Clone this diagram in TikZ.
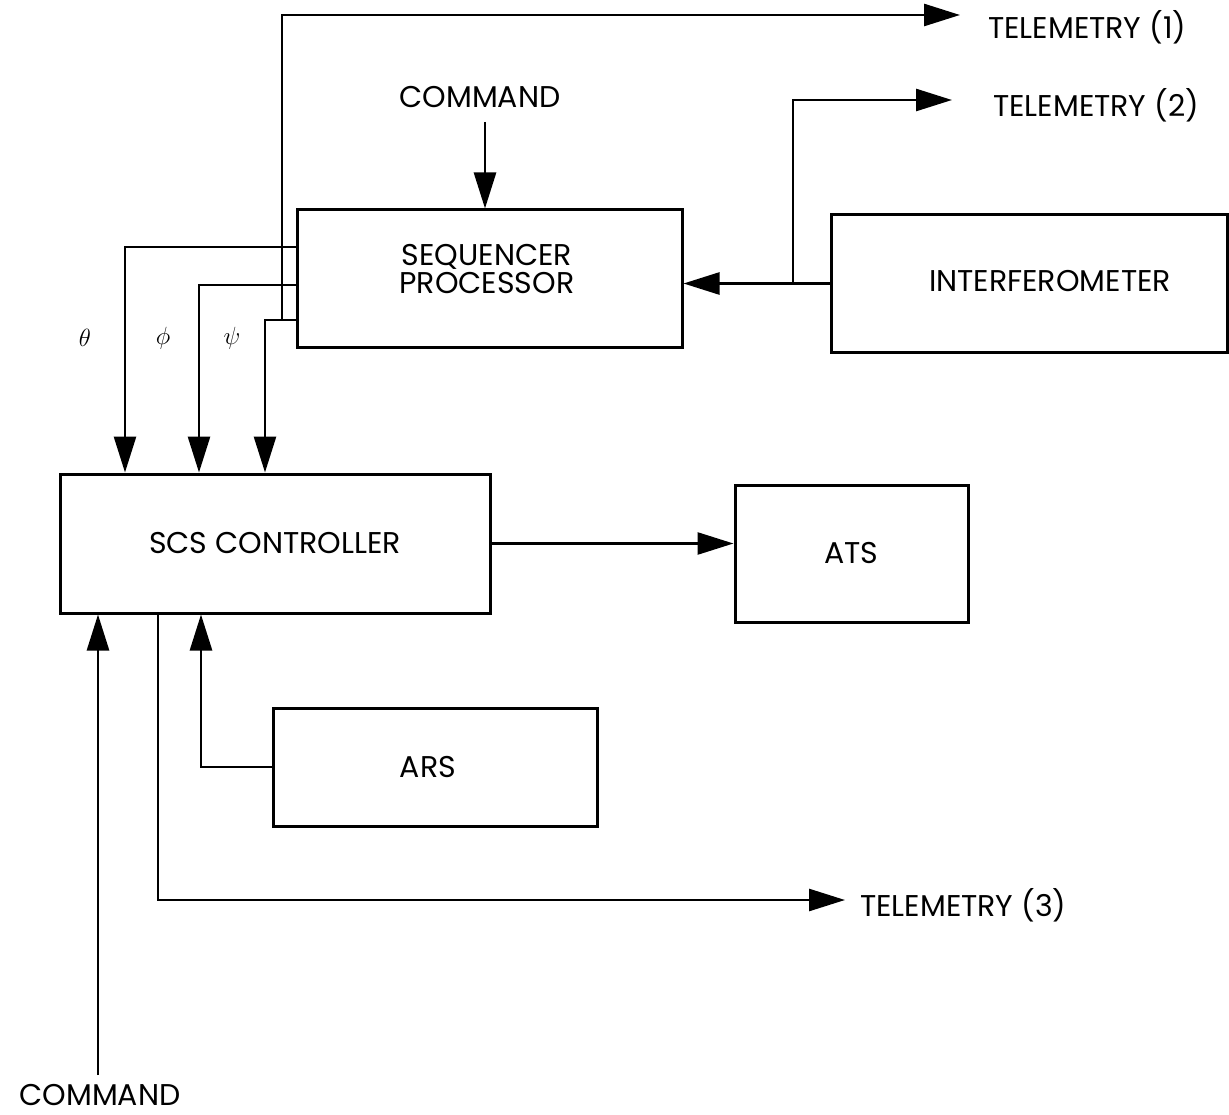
\documentclass[tikz,border=0pt]{standalone}
\usepackage{fontspec}
\setmainfont{Poppins}
\usetikzlibrary{arrows.meta}
\begin{document}
\begin{tikzpicture}[x=1pt,y=-1pt,
  box/.style={draw, line width=3pt, inner sep=0pt, align=center, font=\fontsize{30}{28}\selectfont},
  conn/.style={line width=2.7pt},
  arr/.style={conn, -{Triangle[length=36pt,width=22pt]}},
  lbl/.style={font=\fontsize{30}{28}\selectfont, inner sep=0pt, align=center},
  greek/.style={font=\fontsize{24}{26}\selectfont, inner sep=0pt}]
\useasboundingbox (0,0) rectangle (1229,1115);
% boxes
\node[box, minimum width=385pt, minimum height=137pt] (seq) at (489.5,278.5) {};
\node[lbl] (seqtxt) at (487,269) {SEQUENCER\\PROCESSOR};
\node[box, minimum width=396pt, minimum height=137pt] (intf) at (1029,283.5) {};
\node[lbl] (intftxt) at (1050,281) {INTERFEROMETER};
\node[box, minimum width=430pt, minimum height=139pt] (scs) at (275,543.5) {SCS CONTROLLER};
\node[box, minimum width=233pt, minimum height=137pt] (ats) at (851.5,553.5) {ATS};
\node[box, minimum width=324pt, minimum height=118pt] (ars) at (435,767) {\hspace*{-14pt}ARS};
% labels
\node[lbl] (cmd1) at (480,97) {COMMAND};
\node[lbl] (cmd2) at (100,1095) {COMMAND};
\node[lbl, anchor=west] (tel1) at (988,27) {TELEMETRY (1)};
\node[lbl, anchor=west] (tel2) at (993,105) {TELEMETRY (2)};
\node[lbl, anchor=west] (tel3) at (860,905) {TELEMETRY (3)};
\node[greek] (gth) at (85,338) {$\theta$};
\node[greek] (gph) at (163,338) {$\phi$};
\node[greek] (gps) at (232,338) {$\psi$};
% coordinates
\coordinate (thc) at (125,247);
\coordinate (phc) at (199,285);
\coordinate (psc) at (265,320);
\coordinate (t1c) at (282,15);
\coordinate (t1end) at (960,15);
\coordinate (t2c) at (793,100);
\coordinate (t2end) at (952,100);
\coordinate (c1s) at (485,122);
\coordinate (c2s) at (98,1075);
\coordinate (t3x) at (158,900);
\coordinate (t3end) at (845,900);
\coordinate (arsx) at (201,767);
% connectors
\draw[arr] (seq.west |- thc) -- (thc) -- (thc |- scs.north);
\draw[arr] (seq.west |- phc) -- (phc) -- (phc |- scs.north);
\draw[arr] (seq.west |- psc) -- (psc) -- (psc |- scs.north);
\draw[arr] (t1c |- psc) -- (t1c) -- (t1end);
\draw[arr] (c1s) -- (c1s |- seq.north);
\draw[arr] (intf.west) -- (intf.west -| seq.east);
\draw[arr] (t2c |- intf.west) -- (t2c) -- (t2end);
\draw[arr] (scs.east) -- (scs.east -| ats.west);
\draw[arr] (c2s) -- (c2s |- scs.south);
\draw[arr] (t3x |- scs.south) -- (t3x) -- (t3end);
\draw[arr] (ars.west) -- (arsx) -- (arsx |- scs.south);
\end{tikzpicture}
\end{document}
